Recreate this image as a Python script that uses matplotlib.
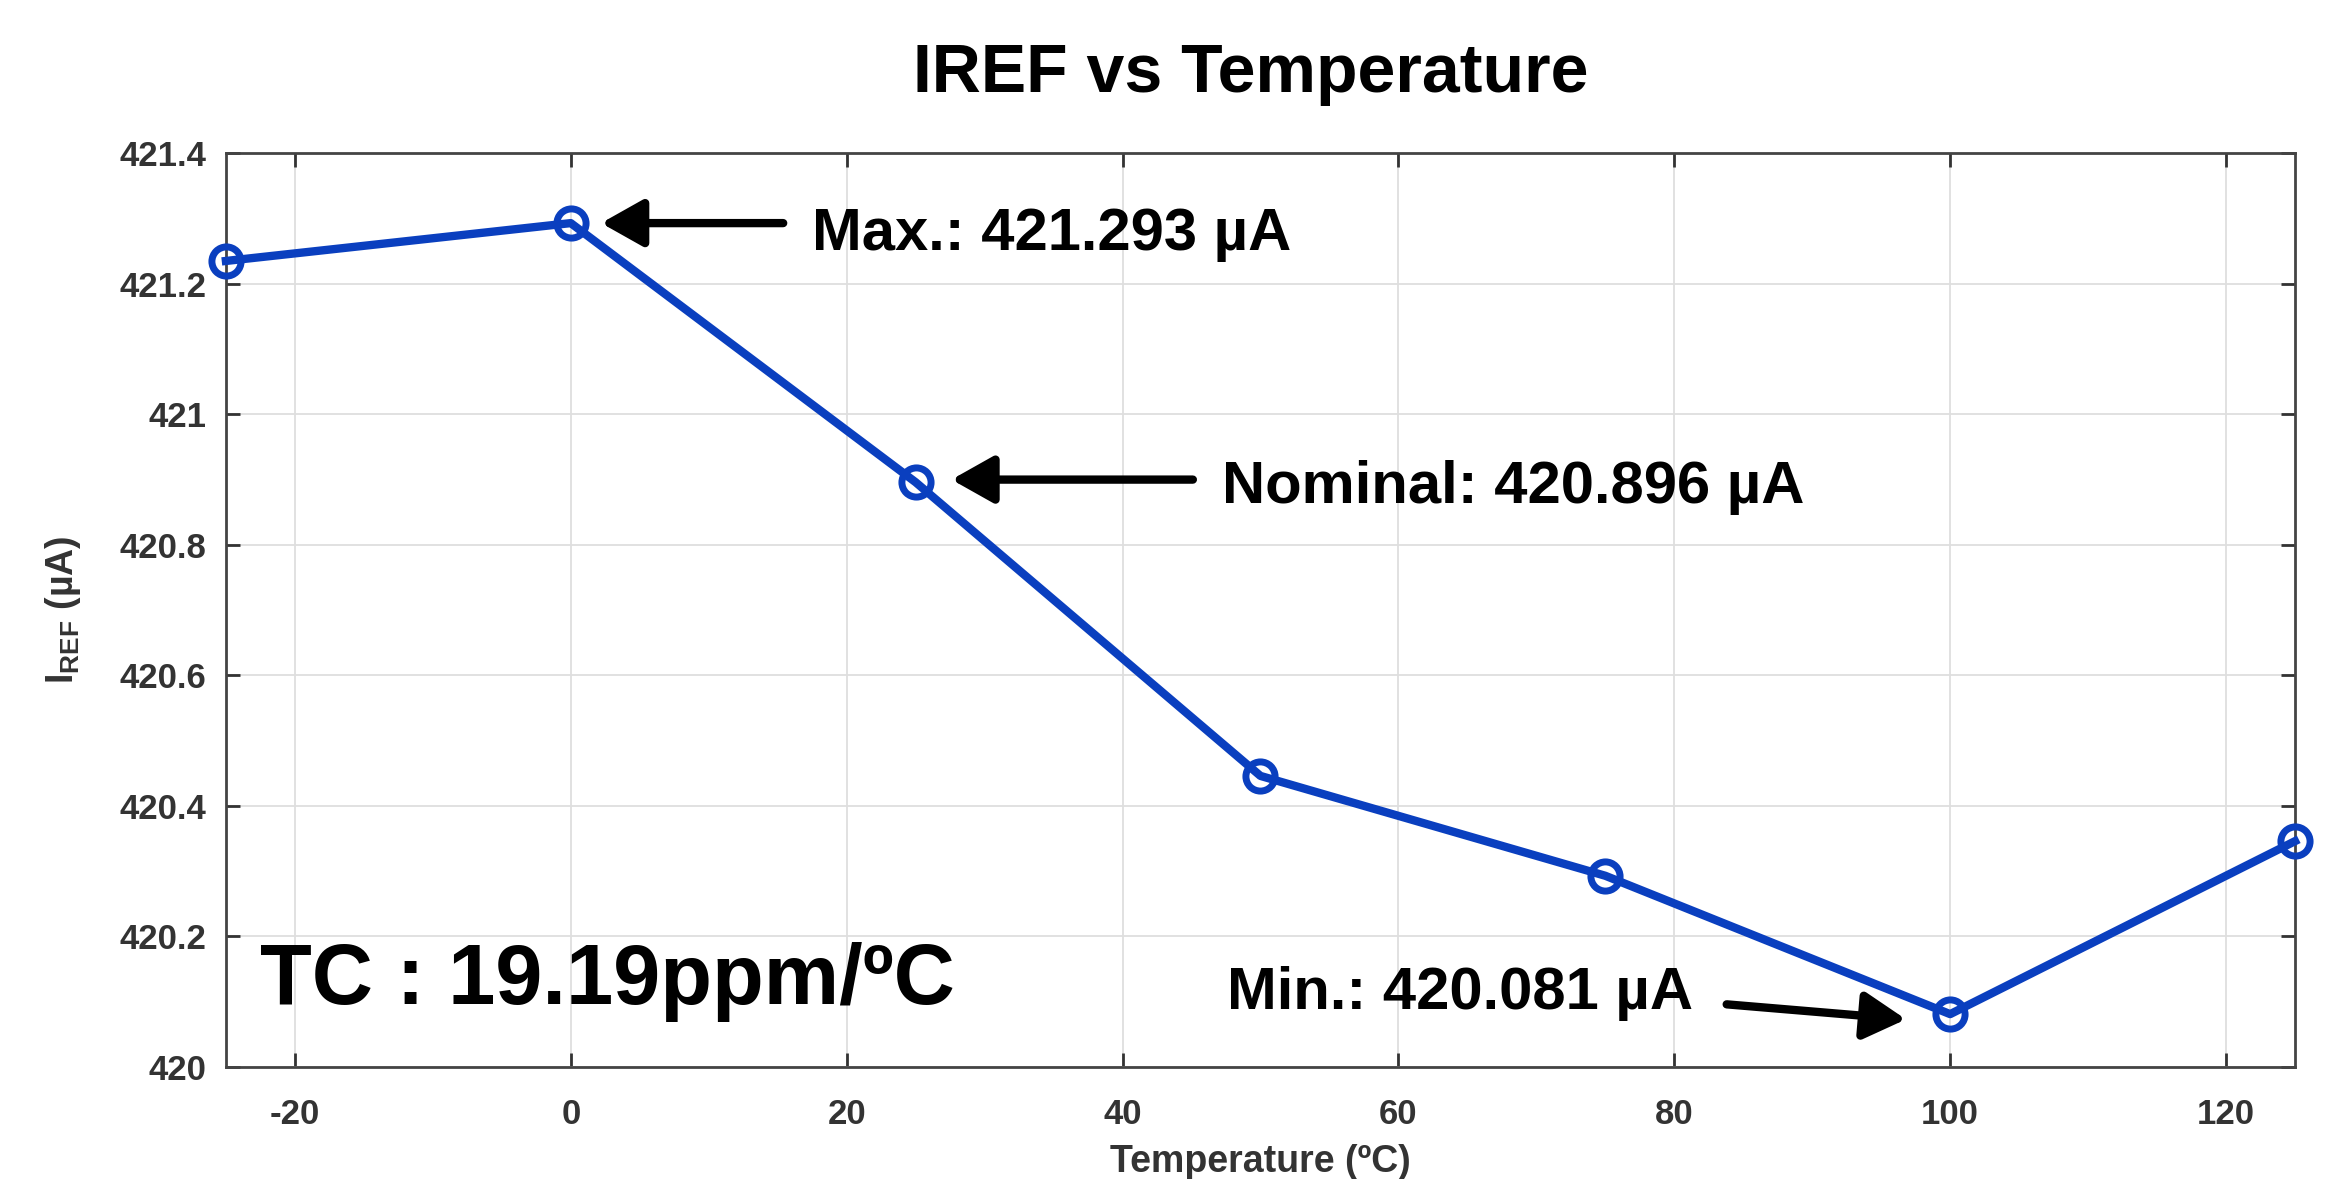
import matplotlib
matplotlib.use("Agg")
import matplotlib.pyplot as plt

# Données IREF vs température
temperature = [-25, 0, 25, 50, 75, 100, 125]
iref = [421.235, 421.293, 420.896, 420.446, 420.293, 420.081, 420.346]

x_ticks = [-20, 0, 20, 40, 60, 80, 100, 120]
y_ticks = [420, 420.2, 420.4, 420.6, 420.8, 421, 421.2, 421.4]
y_tick_labels = ["420", "420.2", "420.4", "420.6", "420.8", "421", "421.2", "421.4"]

plt.rcParams["font.family"] = ["Liberation Sans", "DejaVu Sans"]
plt.rcParams["font.weight"] = "bold"
plt.rcParams["axes.unicode_minus"] = False
plt.rcParams["mathtext.fontset"] = "custom"
plt.rcParams["mathtext.rm"] = "Liberation Sans:bold"
plt.rcParams["mathtext.bf"] = "Liberation Sans:bold"
plt.rcParams["mathtext.it"] = "Liberation Sans:bold"

fig = plt.figure(figsize=(23.29, 11.79), dpi=100)
ax = fig.add_axes([0.097, 0.095, 0.8884, 0.775])

line_color = "#0a3fbf"
ax.plot(temperature, iref, color=line_color, lw=6, marker="o", markersize=21,
        markerfacecolor="none", markeredgecolor=line_color, markeredgewidth=5, clip_on=False, zorder=3)

ax.set_xlim(-25, 125)
ax.set_ylim(420, 421.4)
ax.set_xticks(x_ticks)
ax.set_yticks(y_ticks)
ax.set_yticklabels(y_tick_labels)
ax.tick_params(direction="in", length=10, width=2, colors="#333333", labelsize=25, top=True, right=True)
ax.tick_params(axis="x", pad=22)
ax.tick_params(axis="y", pad=14)
for lab in ax.get_xticklabels() + ax.get_yticklabels():
    lab.set_fontweight("bold")
for sp in ax.spines.values():
    sp.set_color("#444444")
    sp.set_linewidth(2)
ax.grid(True, color="#dedede", lw=1.3)
ax.set_axisbelow(True)

ax.set_xlabel("Temperature (ºC)", fontsize=27, fontweight="bold", color="#333333", labelpad=10)
ax.set_ylabel(r"I$_{\mathbf{REF}}$ (µA)", fontsize=27, fontweight="bold", color="#333333", labelpad=26)
fig.text(0.537, 0.937, "IREF vs Temperature", ha="center", va="center", fontsize=49, fontweight="bold")

# Annotations
arrow = dict(arrowstyle="-|>,head_length=0.8,head_width=0.45", lw=6, color="black", mutation_scale=32,
             shrinkA=0, shrinkB=0)
ax.annotate("", xy=(2.2, 421.293), xytext=(15.4, 421.293), arrowprops=arrow)
ax.text(17.5, 421.275, "Max.: 421.293 µA", fontsize=43, fontweight="bold", va="center")
ax.annotate("", xy=(27.6, 420.9), xytext=(45.1, 420.9), arrowprops=arrow)
ax.text(47.2, 420.888, "Nominal: 420.896 µA", fontsize=43, fontweight="bold", va="center")
ax.annotate("", xy=(96.8, 420.073), xytext=(83.8, 420.096), arrowprops=arrow)
ax.text(47.6, 420.112, "Min.: 420.081 µA", fontsize=43, fontweight="bold", va="center")

ax.text(-22.5, 420.13, "TC : 19.19ppm/ºC", fontsize=61, fontweight="bold", va="center")

fig.savefig("out.png", dpi=100)
